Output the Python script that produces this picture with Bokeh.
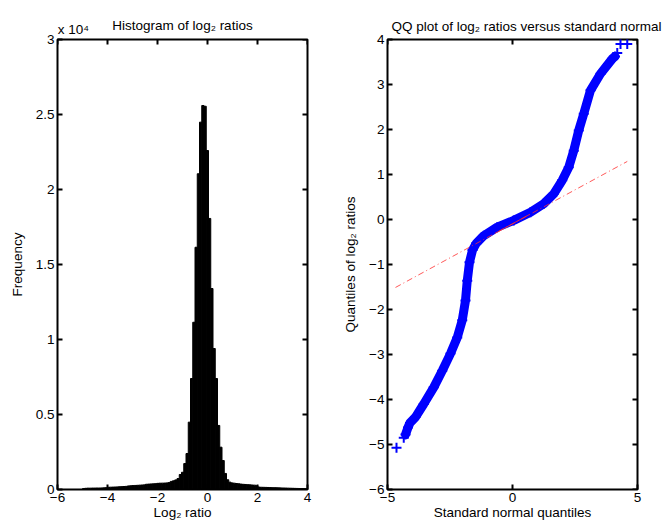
import numpy as np
from bokeh.plotting import figure
from bokeh.layouts import row
from bokeh.models import FixedTicker, Range1d, LinearAxis
from bokeh.embed import file_html
from bokeh.resources import INLINE

# ---------------- data ----------------
# histogram: 100 bins of width 0.09 starting at -5.0
bin_start = -5.0
bin_width = 0.09
hist_counts = [
    60, 80, 90, 90, 95, 95, 100, 100, 105, 110,
    120, 150, 155, 160, 165, 175, 185, 190, 200, 210,
    240, 250, 260, 270, 280, 290, 300, 310, 350, 360,
    370, 380, 390, 410, 420, 425, 430, 440, 460, 540,
    580, 640, 730, 1000, 1150, 1730, 2400, 4490, 7400, 11150,
    16150, 21050, 24490, 25600, 25550, 22600, 18070, 13400, 9400, 7400,
    4270, 2820, 1930, 1070, 650, 490, 440, 420, 400, 380,
    360, 345, 335, 320, 310, 300, 290, 250, 160, 150,
    145, 140, 135, 130, 125, 120, 115, 110, 105, 100,
    95, 90, 85, 80, 75, 70, 65, 60, 55, 50,
]
hist_xrange = (-6, 4)
hist_yrange = (0, 30000)
hist_yticks = [0, 5000, 10000, 15000, 20000, 25000, 30000]
hist_ytick_labels = ["0", "0.5", "1", "1.5", "2", "2.5", "3"]
hist_xticks = [-6, -4, -2, 0, 2, 4]
hist_xtick_labels = ["\u22126", "\u22124", "\u22122", "0", "2", "4"]
hist_scale_text = "x 10\u2074"

# QQ plot: standard normal quantile vs sorted log2 ratio
qq_x = [-4.64, -4.35, -4.28, -4.18, -4.10, -3.88, -3.55, -3.15, -2.81, -2.48,
        -2.21, -2.01, -1.88, -1.81, -1.72, -1.60, -1.45, -1.15, -0.61, 0.05,
        0.72, 1.25, 1.65, 1.99, 2.25, 2.45, 2.65, 2.85, 3.12, 3.52,
        3.99, 4.10, 4.19, 4.32, 4.59]
qq_y = [-5.07, -4.85, -4.78, -4.62, -4.52, -4.39, -4.10, -3.73, -3.36, -2.98,
        -2.62, -2.24, -1.80, -1.36, -0.95, -0.68, -0.53, -0.36, -0.17, -0.02,
        0.16, 0.35, 0.57, 0.87, 1.16, 1.53, 1.98, 2.35, 2.87, 3.24,
        3.57, 3.62, 3.70, 3.90, 3.90]
ref_x = [-4.68, 4.59]
ref_y = [-1.51, 1.29]
iqr_x = [-0.674, 0.674]
iqr_y = [-0.30, 0.11]

qq_xrange = (-5, 5)
qq_yrange = (-6, 4)
qq_xticks = [-5, 0, 5]
qq_xtick_labels = ["\u22125", "0", "5"]
qq_yticks = [-6, -5, -4, -3, -2, -1, 0, 1, 2, 3, 4]
qq_ytick_labels = ["\u22126", "\u22125", "\u22124", "\u22123", "\u22122", "\u22121",
                   "0", "1", "2", "3", "4"]

# ---------------- styling ----------------
FONT = "Liberation Sans"
FS = "13.5px"
FRAME_W, FRAME_H = 250, 450
TICK_PX = 5
SCALE_TEXT_SHIFT = 0.64  # data units: left-align "x 10^4" with the frame's left edge


def style_axis(ax, ticks, labels, label_standoff):
    ax.ticker = FixedTicker(ticks=ticks)
    ax.major_label_overrides = dict(zip(ticks, labels))
    ax.axis_line_color = None
    ax.major_tick_in = TICK_PX
    ax.major_tick_out = 0
    ax.major_tick_line_width = 2
    ax.major_tick_line_color = "black"
    ax.minor_tick_line_color = None
    ax.major_label_text_font = FONT
    ax.major_label_text_font_size = FS
    ax.major_label_text_color = "black"
    ax.major_label_standoff = 3
    ax.axis_label_text_font = FONT
    ax.axis_label_text_font_size = FS
    ax.axis_label_text_font_style = "normal"
    ax.axis_label_text_color = "black"
    ax.axis_label_standoff = label_standoff


def make_fig(xr, yr, bl, br, title=None):
    p = figure(width=334, height=524, x_range=Range1d(*xr), y_range=Range1d(*yr),
               output_backend="svg", toolbar_location=None,
               min_border_left=bl, min_border_right=br,
               min_border_top=39, min_border_bottom=35,
               title=title)
    if title is not None:
        p.title.align = "left"
        p.title.text_font = FONT
        p.title.text_font_size = FS
        p.title.text_font_style = "normal"
        p.title.text_color = "black"
    p.xgrid.visible = False
    p.ygrid.visible = False
    p.outline_line_color = "black"
    p.outline_line_width = 2
    p.outline_line_alpha = 1
    p.background_fill_color = "white"
    p.border_fill_color = "white"
    return p


def mirror_ticks(p, xticks, yticks, xr, yr):
    # inward ticks on the top and right edges of the box
    dy = (yr[1] - yr[0]) * TICK_PX / FRAME_H
    dx = (xr[1] - xr[0]) * TICK_PX / FRAME_W
    p.segment(x0=xticks, x1=xticks, y0=[yr[1]] * len(xticks), y1=[yr[1] - dy] * len(xticks),
              line_color="black", line_width=2)
    p.segment(x0=[xr[1]] * len(yticks), x1=[xr[1] - dx] * len(yticks), y0=yticks, y1=yticks,
              line_color="black", line_width=2)


# ---------------- histogram ----------------
p1 = make_fig(hist_xrange, hist_yrange, 57, 27)
edges = bin_start + bin_width * np.arange(len(hist_counts) + 1)
p1.quad(left=edges[:-1], right=edges[1:], bottom=0, top=hist_counts,
        fill_color="black", line_color="black", line_width=1)
style_axis(p1.xaxis[0], hist_xticks, hist_xtick_labels, 0)
style_axis(p1.yaxis[0], hist_yticks, hist_ytick_labels, 8)
p1.xaxis[0].axis_label = "Log\u2082 ratio"
p1.yaxis[0].axis_label = "Frequency"
mirror_ticks(p1, hist_xticks, hist_yticks, hist_xrange, hist_yrange)
# top axis: carries the "x 10^4" exponent text and the title
scale_pos = hist_xrange[0] + SCALE_TEXT_SHIFT
top1 = LinearAxis()
p1.add_layout(top1, "above")
style_axis(top1, [scale_pos], [hist_scale_text], -14)
top1.major_tick_in = 0
top1.major_tick_line_color = None
top1.major_label_standoff = 3
top1.axis_label = "Histogram of log\u2082 ratios"

# ---------------- QQ plot ----------------
p2 = make_fig(qq_xrange, qq_yrange, 53, 31,
              title="QQ plot of log\u2082 ratios versus standard normal")
p2.title.offset = 4
p2.title.standoff = 12
p2.line(qq_x[2:-3], qq_y[2:-3], line_width=9, line_color="#0000ff",
        line_join="round", line_cap="round")
p2.scatter(qq_x, qq_y, marker="cross", size=10, line_width=2, line_color="#0000ff")
p2.line(ref_x, ref_y, line_color="#ff3030", line_width=1, line_dash="6 3 1 3",
        line_alpha=0.8)
p2.line(iqr_x, iqr_y, line_color="#ff3030", line_width=1, line_alpha=0.8)
style_axis(p2.xaxis[0], qq_xticks, qq_xtick_labels, 0)
style_axis(p2.yaxis[0], qq_yticks, qq_ytick_labels, 8)
p2.xaxis[0].axis_label = "Standard normal quantiles"
p2.yaxis[0].axis_label = "Quantiles of log\u2082 ratios"
mirror_ticks(p2, qq_xticks, qq_yticks, qq_xrange, qq_yrange)

layout = row(p1, p2)
open("out.html", "w").write(file_html(layout, INLINE))
